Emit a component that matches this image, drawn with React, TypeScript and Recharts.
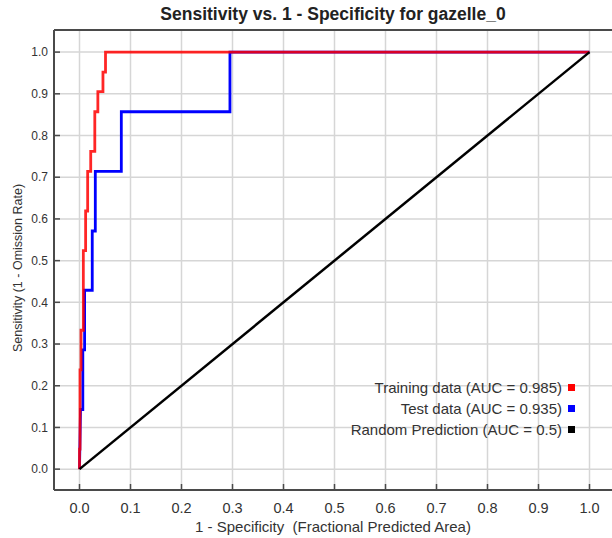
import { CartesianGrid, Customized, Legend, Line, LineChart, XAxis, YAxis } from 'recharts';

const FONT = '"Liberation Sans", Arial, sans-serif';

const ticks = [0, 0.1, 0.2, 0.3, 0.4, 0.5, 0.6, 0.7, 0.8, 0.9, 1.0];

// training curve (red), staircase vertices
const trainFpr = [0, 0, 0.001, 0.001, 0.003, 0.003, 0.0075, 0.0075, 0.012, 0.012, 0.016, 0.016, 0.022, 0.022, 0.03, 0.03, 0.036, 0.036, 0.046, 0.046, 0.051, 0.051, 1];
const trainTpr = [0, 0.048, 0.048, 0.238, 0.238, 0.333, 0.333, 0.524, 0.524, 0.619, 0.619, 0.714, 0.714, 0.762, 0.762, 0.857, 0.857, 0.905, 0.905, 0.952, 0.952, 1, 1];

// test curve (blue)
const testFpr = [0, 0.002, 0.0065, 0.0065, 0.01, 0.01, 0.025, 0.025, 0.031, 0.031, 0.082, 0.082, 0.295, 0.295, 1];
const testTpr = [0, 0.143, 0.143, 0.286, 0.286, 0.429, 0.429, 0.571, 0.571, 0.714, 0.714, 0.857, 0.857, 1, 1];

// random prediction (black)
const randFpr = [0, 1];
const randTpr = [0, 1];

const seriesNames = ['Training data (AUC = 0.985)', 'Test data (AUC = 0.935)', 'Random Prediction (AUC = 0.5)'];
const seriesColors = ['#ff0000', '#0000ff', '#000000'];

const toPoints = (xs: number[], ys: number[]) => xs.map((x, i) => ({ x, y: ys[i] }));

const trainData = toPoints(trainFpr, trainTpr);
const testData = toPoints(testFpr, testTpr);
const randData = toPoints(randFpr, randTpr);

function Titles() {
  return (
    <g fontFamily={FONT}>
      <text x={333} y={20} textAnchor="middle" fontSize={17.5} fontWeight="bold" fill="#222">
        Sensitivity vs. 1 - Specificity for gazelle_0
      </text>
      <text x={333} y={532} textAnchor="middle" fontSize={15} fill="#333" style={{ whiteSpace: 'pre' }}>
        {'1 - Specificity  (Fractional Predicted Area)'}
      </text>
      <text
        x={0}
        y={0}
        transform="translate(18, 268) rotate(-90)"
        textAnchor="middle"
        dominantBaseline="central"
        fontSize={12.5}
        fill="#333"
      >
        Sensitivity (1 - Omission Rate)
      </text>
    </g>
  );
}

function LegendBox() {
  return (
    <div style={{ fontFamily: FONT, fontSize: 15, color: '#333' }}>
      {seriesNames.map((name, i) => (
        <div key={name} style={{ display: 'flex', justifyContent: 'flex-end', alignItems: 'center', height: 21 }}>
          <span>{name}</span>
          <span style={{ display: 'inline-block', width: 7, height: 7, marginLeft: 6, background: seriesColors[i] }} />
        </div>
      ))}
    </div>
  );
}

export default function App() {
  const axisLine = { stroke: '#4a4a4a', strokeWidth: 2 };
  const tickLine = { stroke: '#4a4a4a', strokeWidth: 1.5 };
  const yTickStyle = { fontSize: 12, fill: '#333', fontFamily: FONT };
  const xTickStyle = { fontSize: 14.5, fill: '#333', fontFamily: FONT };
  return (
    <div style={{ position: 'absolute', left: 0, top: 0, width: 612, height: 538, overflow: 'hidden', background: '#fff' }}>
      <LineChart width={620} height={538} margin={{ top: 0, right: 0, bottom: 0, left: 0 }}>
        <CartesianGrid stroke="#d6d6d6" strokeWidth={1.5} />
        <XAxis
          dataKey="x"
          type="number"
          domain={[-0.05, 1.05]}
          ticks={ticks}
          allowDataOverflow
          height={48}
          tickSize={-6}
          tickMargin={19}
          axisLine={axisLine}
          tickLine={tickLine}
          tick={xTickStyle}
          tickFormatter={(v: number) => v.toFixed(1)}
        />
        <XAxis
          xAxisId="top"
          orientation="top"
          type="number"
          domain={[-0.05, 1.05]}
          ticks={ticks}
          allowDataOverflow
          height={30}
          tickSize={-6}
          tick={false}
          axisLine={axisLine}
          tickLine={tickLine}
        />
        <YAxis
          type="number"
          domain={[-0.05, 1.053]}
          ticks={ticks}
          allowDataOverflow
          width={54}
          tickSize={-6}
          tickMargin={12}
          axisLine={axisLine}
          tickLine={tickLine}
          tick={yTickStyle}
          tickFormatter={(v: number) => v.toFixed(1)}
        />
        <YAxis
          yAxisId="right"
          orientation="right"
          type="number"
          domain={[-0.05, 1.053]}
          ticks={ticks}
          allowDataOverflow
          width={5}
          tickSize={-6}
          tick={false}
          axisLine={axisLine}
          tickLine={tickLine}
        />
        <Line data={testData} dataKey="y" name={seriesNames[1]} stroke={seriesColors[1]} strokeWidth={2.8} dot={false} isAnimationActive={false} />
        <Line data={trainData} dataKey="y" name={seriesNames[0]} stroke={seriesColors[0]} strokeOpacity={0.85} strokeWidth={2.8} dot={false} isAnimationActive={false} />
        <Line data={randData} dataKey="y" name={seriesNames[2]} stroke={seriesColors[2]} strokeWidth={2.5} dot={false} isAnimationActive={false} />
        <Legend
          layout="vertical"
          align="center"
          verticalAlign="middle"
          content={() => <LegendBox />}
          wrapperStyle={{ left: 300, top: 377, width: 275 }}
        />
        <Customized component={Titles} />
      </LineChart>
    </div>
  );
}
